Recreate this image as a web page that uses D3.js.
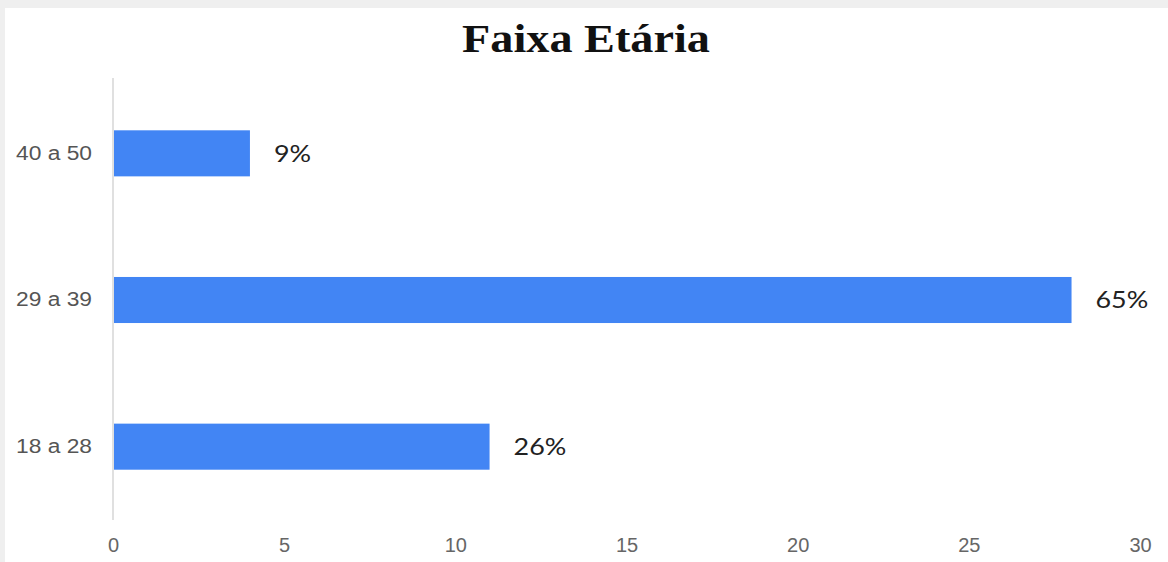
<!DOCTYPE html>
<html>
<head>
<meta charset="utf-8">
<script src="https://cdn.jsdelivr.net/npm/d3@7"></script>
<style>
  body { margin: 0; background: #fff; }
</style>
</head>
<body>
<div id="chart"></div>
<script>
const categories = ['40 a 50', '29 a 39', '18 a 28']
const values = [4, 28, 11]
const percentLabels = ['9%', '65%', '26%']
const xTicks = [0, 5, 10, 15, 20, 25, 30]

const width = 1168,
    height = 562

const margin = ({
    top: 80,
    right: 28,
    bottom: 42,
    left: 113
})

const svg = d3.select('#chart').append('svg')
    .attr('width', width)
    .attr('height', height)

// screenshot frame edges
svg.append('rect').attr('x', 0).attr('y', 0).attr('width', width).attr('height', 8).attr('fill', '#efefef')
svg.append('rect').attr('x', 0).attr('y', 0).attr('width', 5).attr('height', height).attr('fill', '#efefef')

const x = d3.scaleLinear()
    .domain([0, 30])
    .range([margin.left, width - margin.right])

const y = d3.scaleBand()
    .domain(categories)
    .range([margin.top, height - margin.bottom])
    .paddingInner(0.686)
    .paddingOuter(0.343)

svg.append('text')
    .attr('x', 586)
    .attr('y', 52)
    .attr('text-anchor', 'middle')
    .attr('font-family', 'Liberation Serif, serif')
    .attr('font-weight', 'bold')
    .attr('font-size', 41)
    .attr('textLength', 248)
    .attr('lengthAdjust', 'spacingAndGlyphs')
    .attr('fill', '#111')
    .text('Faixa Etária')

// baseline
svg.append('line')
    .attr('x1', x(0)).attr('x2', x(0))
    .attr('y1', margin.top - 2).attr('y2', height - margin.bottom)
    .attr('stroke', '#e0e0e0')
    .attr('stroke-width', 2)

svg.selectAll('rect.bar')
    .data(values)
    .join('rect')
    .attr('class', 'bar')
    .attr('x', x(0) + 1)
    .attr('y', (d, i) => y(categories[i]))
    .attr('width', d => x(d) - x(0) - 1)
    .attr('height', y.bandwidth())
    .attr('fill', '#4285f4')

svg.selectAll('text.val')
    .data(values)
    .join('text')
    .attr('class', 'val')
    .attr('transform', (d, i) => `translate(${x(d) + 24},${y(categories[i]) + y.bandwidth() / 2}) scale(1.12,1)`)
    .attr('dy', '0.35em')
    .attr('font-family', 'Lato, sans-serif')
    .attr('font-size', 24)
    .attr('fill', '#222')
    .text((d, i) => percentLabels[i])

const yAxis = svg.append('g')
    .attr('transform', `translate(${x(0) - 21},0)`)
    .call(d3.axisLeft(y).tickSize(0).tickPadding(0))
yAxis.select('.domain').remove()
yAxis.selectAll('text')
    .attr('font-family', 'Liberation Sans, Arial, sans-serif')
    .attr('font-size', 20)
    .attr('textLength', 76)
    .attr('lengthAdjust', 'spacingAndGlyphs')
    .attr('fill', '#555')

const xAxis = svg.append('g')
    .attr('transform', `translate(0,${height - margin.bottom})`)
    .call(d3.axisBottom(x).tickValues(xTicks).tickSize(0).tickPadding(18))
xAxis.select('.domain').remove()
xAxis.selectAll('text')
    .attr('font-family', 'Liberation Sans, Arial, sans-serif')
    .attr('font-size', 20)
    .attr('fill', '#666')
</script>
</body>
</html>
